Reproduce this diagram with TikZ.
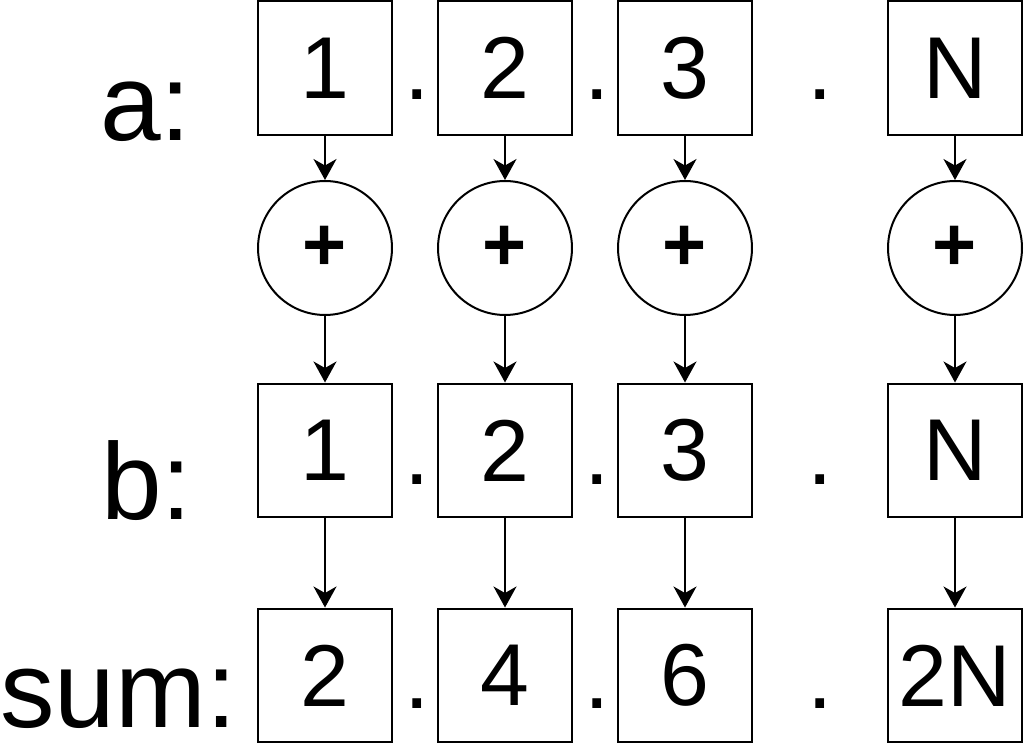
\documentclass[tikz,border=0pt]{standalone}
\usepackage{fontspec}
\setmainfont{Liberation Sans}
\usepackage{tikz}
\usetikzlibrary{arrows.meta}
\tikzset{
    cell/.style={shape=rectangle, draw=black, line width=0.04cm, minimum size=2.68cm, inner sep=0pt, font=\fontsize{50}{60}\selectfont},
    adder/.style={shape=circle, draw=black, line width=0.04cm, minimum size=2.68cm, inner sep=0pt, font=\fontsize{43}{50}\selectfont\bfseries},
    gap/.style={inner sep=0pt, anchor=base, font=\fontsize{52}{60}\selectfont},
    rowname/.style={inner sep=0pt, anchor=base west, font=\fontsize{62}{70}\selectfont},
    flow/.style={->, line width=0.04cm, >={Stealth[length=0.42cm, width=0.46cm, inset=0.13cm]}}}

\begin{document}
\begin{tikzpicture}[x=0.02cm, y=-0.02cm]
        \useasboundingbox (0,0) rectangle (1024,756);

            \node[rowname] (la) at (100,141) {a:};
            \node[rowname] (lb) at (101,520) {b:};
            \node[rowname] (ls) at (0,727) {sum:};

            \node[cell] (a1) at (325,68) {1};
            \node[cell] (a2) at (505,68) {2};
            \node[cell] (a3) at (685,68) {3};
            \node[cell] (aN) at (955,68) {N};

            \node[adder] (p1) at (325,248) {+};
            \node[adder] (p2) at (505,248) {+};
            \node[adder] (p3) at (685,248) {+};
            \node[adder] (pN) at (955,248) {+};

            \node[cell] (b1) at (325,450.5) {1};
            \node[cell] (b2) at (505,450.5) {2};
            \node[cell] (b3) at (685,450.5) {3};
            \node[cell] (bN) at (955,450.5) {N};

            \node[cell] (s1) at (325,675.5) {2};
            \node[cell] (s2) at (505,675.5) {4};
            \node[cell] (s3) at (685,675.5) {6};
            \node[cell] (sN) at (955,675.5) {2N};

            \node[gap] (da1) at (417,100) {.};
            \node[gap] (da2) at (597,100) {.};
            \node[gap] (da3) at (820,100) {.};
            \node[gap] (db1) at (417,484) {.};
            \node[gap] (db2) at (597,484) {.};
            \node[gap] (db3) at (820,484) {.};
            \node[gap] (ds1) at (417,708) {.};
            \node[gap] (ds2) at (597,708) {.};
            \node[gap] (ds3) at (820,708) {.};

            \draw[flow] (a1) -- (p1);
            \draw[flow] (a2) -- (p2);
            \draw[flow] (a3) -- (p3);
            \draw[flow] (aN) -- (pN);
            \draw[flow] (p1) -- (b1);
            \draw[flow] (p2) -- (b2);
            \draw[flow] (p3) -- (b3);
            \draw[flow] (pN) -- (bN);
            \draw[flow] (b1) -- (s1);
            \draw[flow] (b2) -- (s2);
            \draw[flow] (b3) -- (s3);
            \draw[flow] (bN) -- (sN);

        \end{tikzpicture}
\end{document}
